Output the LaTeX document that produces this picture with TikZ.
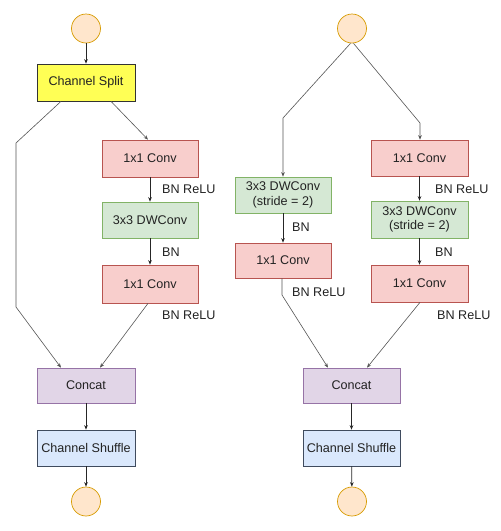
\documentclass[tikz,border=0pt]{standalone}
\usepackage{fontspec}
\setmainfont{Liberation Sans}
\usetikzlibrary{arrows.meta,calc}
\definecolor{pinkF}{HTML}{F8CECC}\definecolor{pinkD}{HTML}{B85450}
\definecolor{greenF}{HTML}{D5E8D4}\definecolor{greenD}{HTML}{82B366}
\definecolor{purpF}{HTML}{E1D5E7}\definecolor{purpD}{HTML}{9673A6}
\definecolor{blueF}{HTML}{DAE8FC}\definecolor{blueD}{HTML}{3F4B5E}
\definecolor{yelF}{HTML}{FFFF55}\definecolor{yelD}{HTML}{333333}
\definecolor{circF}{HTML}{FFE6CC}\definecolor{circD}{HTML}{D79B00}
\definecolor{lineC}{HTML}{555555}
\definecolor{txtC}{HTML}{222222}
\begin{document}
\begin{tikzpicture}[x=1pt,y=-1pt,
  every node/.style={font=\fontsize{12.6}{14.5}\selectfont, text=txtC, inner sep=0pt},
  box/.style={draw, line width=0.7pt, minimum width=#1, align=center},
  splitbox/.style={box=98pt, fill=yelF, draw=yelD, minimum height=37pt},
  convbox/.style={box=#1, fill=pinkF, draw=pinkD},
  dwbox/.style={box=#1, fill=greenF, draw=greenD},
  catbox/.style={box=#1, fill=purpF, draw=purpD, minimum height=35pt},
  shufbox/.style={box=#1, fill=blueF, draw=blueD, minimum height=36pt},
  io/.style={circle, draw=circD, fill=circF, line width=0.7pt, minimum size=29pt},
  lab/.style={anchor=west},
  arr/.style={-{Stealth[length=4.5pt,width=3.6pt]}, line width=0.7pt},
  larr/.style={arr, draw=lineC, line width=0.6pt},
  sarr/.style={arr, draw=black!85}
]
\useasboundingbox (0,0) rectangle (501,531);

% ---------- left unit ----------
\node[io] (inL) at (86,28.5) {};
\node[splitbox] (split) at (86,82.5) {Channel Split};
\node[convbox=96pt, minimum height=37pt] (convA) at (150,158.5) {1x1 Conv};
\node[dwbox=96pt, minimum height=36pt] (dwA) at (150,220) {3x3 DWConv};
\node[convbox=96pt, minimum height=38pt] (convB) at (150,284) {1x1 Conv};
\node[catbox=98pt] (catL) at (86,385.5) {Concat};
\node[shufbox=98pt] (shufL) at (86,448) {Channel Shuffle};
\node[io] (outL) at (86,501.5) {};

\coordinate (lb1) at (16,143);
\coordinate (lb2) at (16,307);

\draw[sarr] (inL) -- (split);
\draw[larr] ([xshift=-25pt]split.south) -- (lb1) -- (lb2) -- ([xshift=-25pt]catL.north);
\draw[larr] ([xshift=25pt]split.south) -- ([xshift=-2pt]convA.north);
\draw[sarr] (convA) -- (dwA);
\draw[sarr] (dwA) -- (convB);
\draw[larr] ([xshift=-2pt]convB.south) -- ([xshift=14pt]catL.north);
\draw[sarr] (catL) -- (shufL);
\draw[sarr] (shufL) -- (outL);

\node[lab] (lA1) at (162,189) {BN ReLU};
\node[lab] (lA2) at (162,252) {BN};
\node[lab] (lA3) at (162,315) {BN ReLU};

% ---------- right unit ----------
\node[io] (inR) at (352,28.5) {};
\node[dwbox=96pt, minimum height=36pt] (dwL) at (283,195) {3x3 DWConv\\(stride = 2)};
\node[convbox=96pt, minimum height=35pt] (convL) at (283,260.5) {1x1 Conv};
\node[convbox=97pt, minimum height=36pt] (convR1) at (419.5,158) {1x1 Conv};
\node[dwbox=97pt, minimum height=37pt] (dwR) at (419.5,219.5) {3x3 DWConv\\(stride = 2)};
\node[convbox=97pt, minimum height=37pt] (convR2) at (419.5,283.5) {1x1 Conv};
\node[catbox=97pt] (catR) at (351.5,385.5) {Concat};
\node[shufbox=97pt] (shufR) at (351.5,448) {Channel Shuffle};
\node[io] (outR) at (352,501.5) {};

\coordinate (rb1) at (283,118);
\coordinate (rb2) at (420,123);
\coordinate (rb3) at (282,295);

\draw[larr] ([xshift=-1.5pt]inR.south) -- (rb1) -- (dwL.north);
\draw[larr] ([xshift=1.5pt]inR.south) -- (rb2) -- ([xshift=0.5pt]convR1.north);
\draw[sarr] (dwL) -- (convL);
\draw[larr] ([xshift=-1pt]convL.south) -- (rb3) -- ([xshift=-23.5pt]catR.north);
\draw[sarr] (convR1) -- (dwR);
\draw[sarr] (dwR) -- (convR2);
\draw[larr] ([xshift=0.5pt]convR2.south) -- ([xshift=15.5pt]catR.north);
\draw[sarr] (catR) -- (shufR);
\draw[sarr] (shufR) -- (outR);

\node[lab] (lB1) at (292,227) {BN};
\node[lab] (lB2) at (292,292) {BN ReLU};
\node[lab] (lC1) at (435,189) {BN ReLU};
\node[lab] (lC2) at (435,252) {BN};
\node[lab] (lC3) at (437,315) {BN ReLU};
\end{tikzpicture}
\end{document}
